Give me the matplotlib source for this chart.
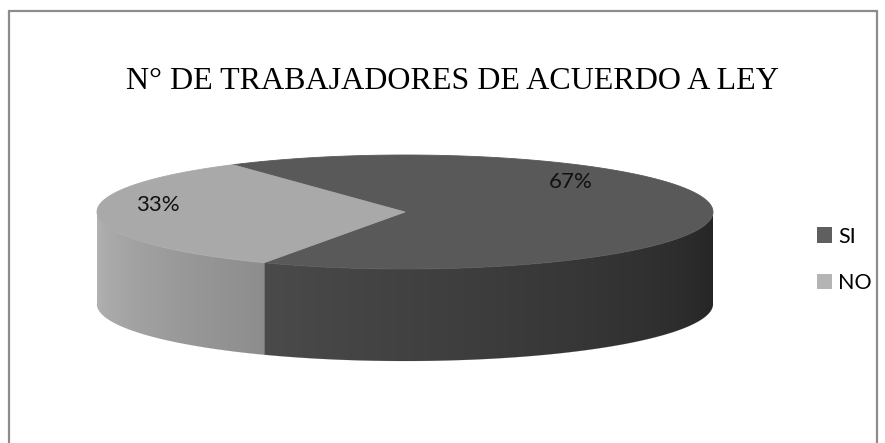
import numpy as np
import matplotlib.pyplot as plt
from matplotlib.patches import Polygon, Patch

# data
categories = ["SI", "NO"]
values = [67, 33]
pct_labels = ["67%", "33%"]
title = "N° DE TRABAJADORES DE ACUERDO A LEY"

# styling / layout (pixel space)
base_colors = [(0x5f, 0x5f, 0x5f), (0xb4, 0xb4, 0xb4)]
cx, cy = 405, 212          # centre of top ellipse
rx, ry = 308, 57           # radii of top ellipse
depth = 92                 # thickness of the pie
start_angle = 124          # degrees, first slice goes clockwise from here
label_xy = [(571, 182), (158, 205)]


def ell(t):
    t = np.radians(t)
    return cx + rx * np.cos(t), cy - ry * np.sin(t)


def shade(rgb, f):
    return tuple(min(1.0, c * f / 255.0) for c in rgb)


def side_factor(t):
    # lighter on the left, darker towards the right
    return 1.0 - 0.62 * (t - 180) / 180


fig = plt.figure(figsize=(8.85, 4.43), dpi=100)
ax = fig.add_axes([0, 0, 1, 1])
ax.set_xlim(0, 885)
ax.set_ylim(443, 0)
ax.axis('off')

# slice angles from the data
fracs = np.array(values, dtype=float) / np.sum(values)
spans = fracs * 360
bounds = []
a = start_angle
for s in spans:
    bounds.append((a - s, a))  # clockwise slice from a to a-s
    a -= s

# side faces (only the front half, angles 180..360), gradient clipped to the face
for (lo, hi), rgb in zip(bounds, base_colors):
    ts = np.linspace(lo, hi, 600) % 360
    vis = np.sort(ts[(ts >= 180) & (ts <= 360)])
    if len(vis) < 2:
        continue
    xs, ys = ell(vis)
    pts = list(zip(xs, ys)) + list(zip(xs[::-1], ys[::-1] + depth))
    poly = Polygon(pts, closed=True, facecolor='none', edgecolor='none')
    ax.add_patch(poly)
    x0, x1 = xs.min(), xs.max()
    gx = np.linspace(x0, x1, 300)
    gt = 360 - np.degrees(np.arccos(np.clip((gx - cx) / rx, -1, 1)))
    img = np.array([shade(rgb, f) for f in side_factor(gt)])[None, :, :]
    im = ax.imshow(img, extent=(x0, x1, ys.max() + depth + 2, ys.min() - 2),
                   aspect='auto', interpolation='bilinear', zorder=1)
    im.set_clip_path(poly)
    ax.plot(xs, ys + depth, color=shade(rgb, 0.5), linewidth=0.3, alpha=0.3)

# top faces
for (lo, hi), rgb in zip(bounds, base_colors):
    ts = np.linspace(lo, hi, 200)
    xs, ys = ell(ts)
    pts = [(cx, cy)] + list(zip(xs, ys))
    col = shade(rgb, 0.94)
    ax.add_patch(Polygon(pts, closed=True, facecolor=col, edgecolor=col,
                         linewidth=0.6, zorder=2))

ax.set_xlim(0, 885)
ax.set_ylim(443, 0)

# data labels
for txt, (lx, ly) in zip(pct_labels, label_xy):
    ax.text(lx, ly, txt, ha='center', va='center', fontsize=16,
            family='Lato', color='#111111', zorder=3)

# title
ax.text(452, 81, title, ha='center', va='center', fontsize=23,
        family='Liberation Serif', color='black')

# legend
handles = [Patch(facecolor=shade(c, 1.0), edgecolor='none') for c in base_colors]
leg = ax.legend(handles, categories, loc='center left', bbox_to_anchor=(806 / 885, 1 - 260 / 443),
                frameon=False, fontsize=15.5, handlelength=0.7, handleheight=0.7,
                handletextpad=0.3, labelspacing=1.25, borderpad=0)
for t in leg.get_texts():
    t.set_family('Lato')

# chart border (top, left, right)
ax.plot([9, 9, 877, 877], [443, 11, 11, 443], color='#8c8c8c', linewidth=1.6,
        solid_joinstyle='miter')

plt.savefig('out.png', dpi=100)
